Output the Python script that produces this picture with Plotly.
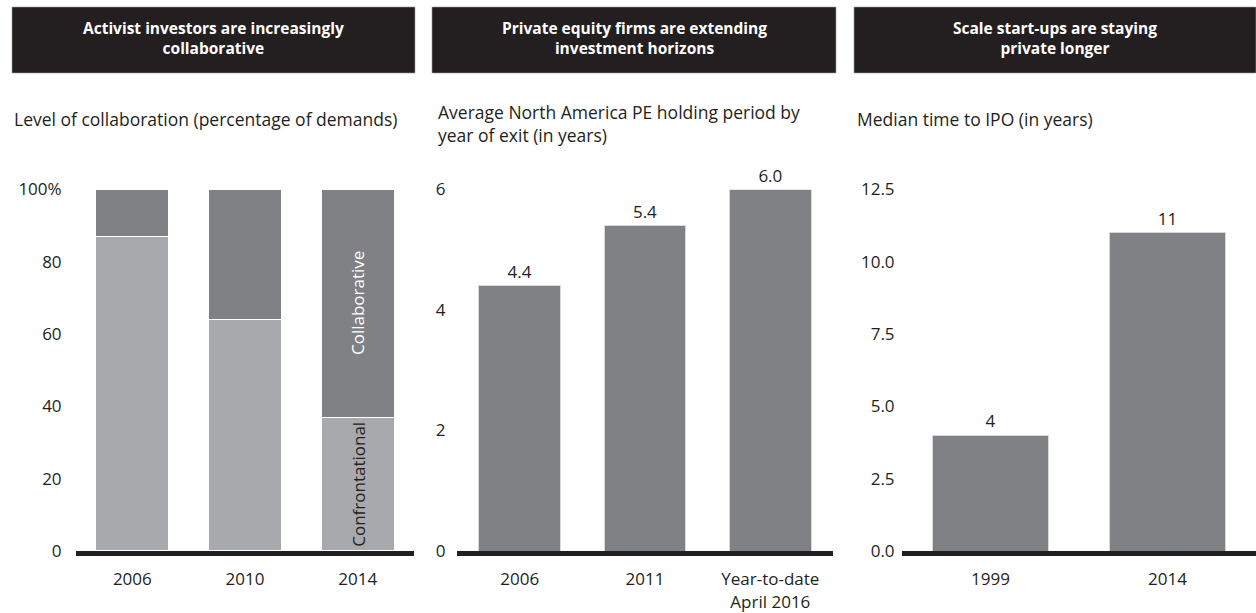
import plotly.graph_objects as go

# ---- data ----
p1_categories = ["2006", "2010", "2014"]
p1_confrontational = [87, 64, 37]
p1_collaborative = [13, 36, 63]
p1_ticks = [0, 20, 40, 60, 80, 100]
p1_ticktext = ["0", "20", "40", "60", "80", "100%"]

p2_categories = ["2006", "2011", "Year-to-date<br>April 2016"]
p2_values = [4.4, 5.4, 6.0]
p2_ticks = [0, 2, 4, 6]

p3_categories = ["1999", "2014"]
p3_values = [4, 11]
p3_ticks = [0, 2.5, 5, 7.5, 10, 12.5]

headers = ["Activist investors are increasingly<br>collaborative",
           "Private equity firms are extending<br>investment horizons",
           "Scale start-ups are staying<br>private longer"]
subtitles = ["Level of collaboration (percentage of demands)",
             "Average North America PE holding period by<br>year of exit (in years)",
             "Median time to IPO (in years)"]

W, H = 1256, 613
FONT = "Open Sans"
DARK = "#808185"
LIGHT = "#A7A9AC"
TXT = "#231F20"


def px(x):
    return x / W


def py(y):
    return 1 - y / H


fig = go.Figure()

# Panel 1 stacked bars
fig.add_trace(go.Bar(x=p1_categories, y=p1_confrontational, name="Confrontational",
                     marker=dict(color=LIGHT, line=dict(color="white", width=1.2)),
                     width=0.65, xaxis="x", yaxis="y", showlegend=False))
fig.add_trace(go.Bar(x=p1_categories, y=p1_collaborative, name="Collaborative",
                     marker=dict(color=DARK, line=dict(color="white", width=1.2)),
                     width=0.65, xaxis="x", yaxis="y", showlegend=False))

# Panel 2
fig.add_trace(go.Bar(x=p2_categories, y=p2_values,
                     text=[f"{v:.1f}" for v in p2_values], textposition="outside",
                     textfont=dict(family=FONT, size=17, color=TXT), cliponaxis=False,
                     marker=dict(color=DARK, line=dict(color="#d8d8d8", width=1)),
                     width=0.65, xaxis="x2", yaxis="y2", showlegend=False))

# Panel 3
fig.add_trace(go.Bar(x=p3_categories, y=p3_values,
                     text=[f"{v:g}" for v in p3_values], textposition="outside",
                     textfont=dict(family=FONT, size=17, color=TXT), cliponaxis=False,
                     marker=dict(color=DARK, line=dict(color="#d8d8d8", width=1)),
                     width=0.66, xaxis="x3", yaxis="y3", showlegend=False))

ydom = [py(551), py(189.5)]
common_x = dict(type="category", showgrid=False, zeroline=False, showline=True,
                linecolor=TXT, linewidth=5, automargin=False, categoryorder="array",
                ticks="outside", ticklen=9, tickcolor="rgba(0,0,0,0)",
                tickfont=dict(family=FONT, size=17, color=TXT), fixedrange=True)
common_y = dict(showgrid=False, zeroline=False, showline=False, ticks="outside",
                automargin=False,
                tickcolor="rgba(0,0,0,0)", tickfont=dict(family=FONT, size=17, color=TXT),
                fixedrange=True)

fig.update_layout(
    template="none",
    width=W, height=H, margin=dict(l=0, r=0, t=0, b=0, pad=0), autosize=False,
    paper_bgcolor="white", plot_bgcolor="white", barmode="stack",
    font=dict(family=FONT, color=TXT),
    xaxis=dict(domain=[px(76), px(414)], anchor="y", categoryarray=p1_categories,
               range=[-0.5, len(p1_categories) - 0.5], **common_x),
    yaxis=dict(domain=ydom, anchor="x", range=[0, 100], tickvals=p1_ticks,
               ticktext=p1_ticktext, ticklen=10, **common_y),
    xaxis2=dict(domain=[px(457), px(833)], anchor="y2", categoryarray=p2_categories,
                range=[-0.5, len(p2_categories) - 0.5], **common_x),
    yaxis2=dict(domain=ydom, anchor="x2", range=[0, 6], tickvals=p2_ticks,
                ticklen=7, **common_y),
    xaxis3=dict(domain=[px(902), px(1256)], anchor="y3", categoryarray=p3_categories,
                range=[-0.5, len(p3_categories) - 0.5], **common_x),
    yaxis3=dict(domain=ydom, anchor="x3", range=[0, 12.5], tickvals=p3_ticks,
                tickformat=".1f", ticklen=3, **common_y),
)

# header boxes and subtitles
boxes = [(12, 415), (432, 836), (854, 1256)]
sub_y = [119, 123, 119]
sub_x = [12, 436, 855]
shapes = []
annotations = []
for i, (x0, x1) in enumerate(boxes):
    shapes.append(dict(type="rect", xref="paper", yref="paper", x0=px(x0), x1=px(x1),
                       y0=py(73), y1=py(7), fillcolor="#231F20",
                       line=dict(color="#9a9a9a", width=0.6), layer="below"))
    annotations.append(dict(xref="paper", yref="paper", x=px((x0 + x1) / 2), y=py(38),
                            text=f"<b>{headers[i]}</b>", showarrow=False,
                            font=dict(family=FONT, size=15.5, color="white"),
                            xanchor="center", yanchor="middle", align="center"))
    annotations.append(dict(xref="paper", yref="paper", x=px(sub_x[i]), y=py(sub_y[i]),
                            text=subtitles[i], showarrow=False,
                            font=dict(family=FONT, size=17.5, color=TXT),
                            xanchor="left", yanchor="middle", align="left"))

# in-bar series labels (x given as category index on the category axis)
last = len(p1_categories) - 1
annotations.append(dict(xref="x", yref="y", x=last,
                        y=p1_confrontational[last] + p1_collaborative[last] / 2,
                        text="Collaborative", textangle=-90, showarrow=False,
                        font=dict(family=FONT, size=17, color="white")))
annotations.append(dict(xref="x", yref="y", x=last,
                        y=p1_confrontational[last] / 2,
                        text="Confrontational", textangle=-90, showarrow=False,
                        font=dict(family=FONT, size=17, color=TXT)))

fig.update_layout(shapes=shapes, annotations=annotations)
fig.write_html("out.html", post_script="document.body.style.margin='0';",
               config={"displayModeBar": False})
